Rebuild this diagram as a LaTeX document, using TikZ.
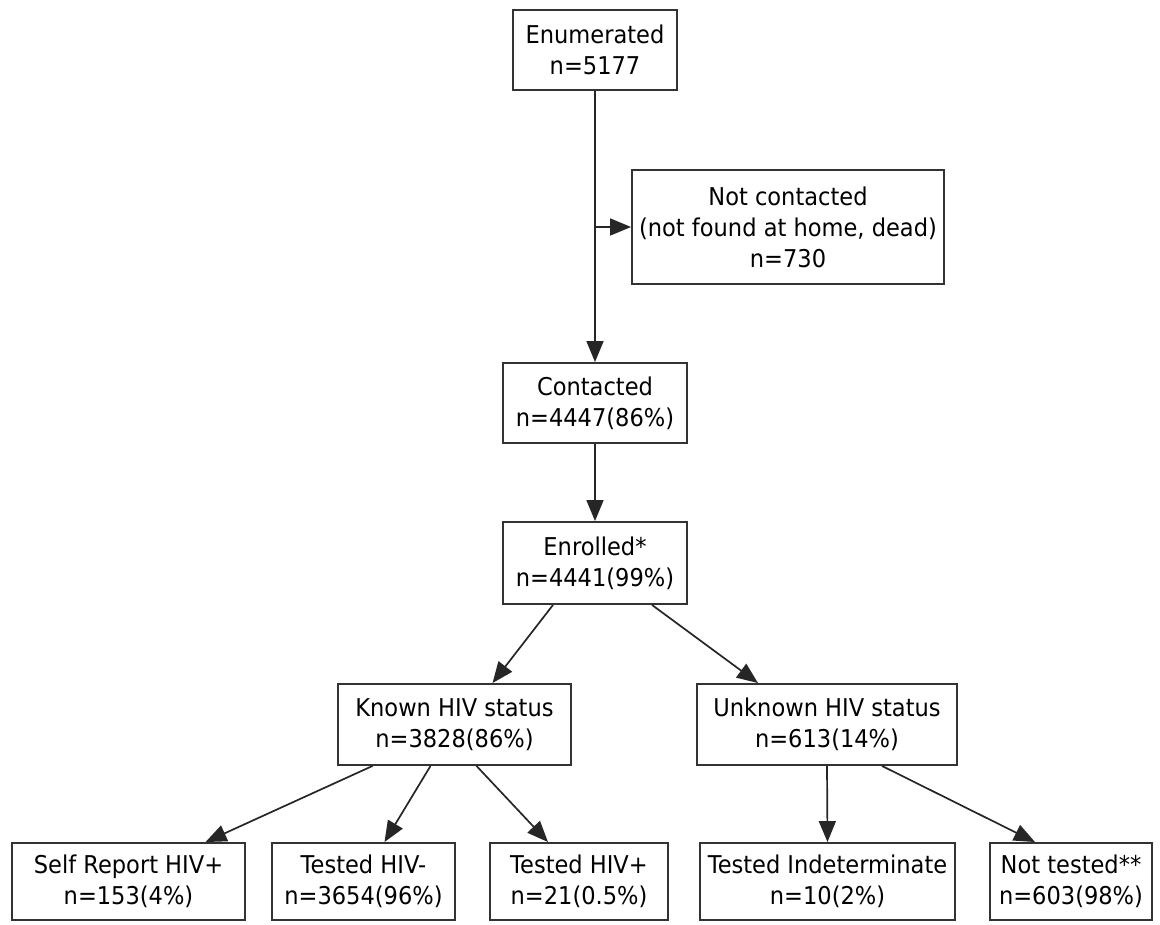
\documentclass[tikz,border=0pt]{standalone}
\usepackage{fontspec}
\setmainfont{DejaVu Sans}[FakeStretch=0.92]
\usetikzlibrary{arrows.meta,calc}
\tikzset{
  box/.style={draw=black!80, line width=1.9pt, align=center, inner sep=0pt,
    font=\fontsize{24.5}{31}\selectfont, text=black},
  conn/.style={draw=black!85, line width=1.7pt, -{Triangle[length=21pt,width=17pt]}},
}
\begin{document}
\begin{tikzpicture}[x=1pt,y=-1pt]
\useasboundingbox[fill=white] (0,0) rectangle (1160,925);
\node[box, minimum width=164pt, minimum height=80pt] (enum) at (595,50) {Enumerated\\n=5177};
\node[box, minimum width=312pt, minimum height=114pt] (nc) at (788,227) {Not contacted\\(not found at home, dead)\\n=730};
\node[box, minimum width=184pt, minimum height=80pt] (cont) at (595,403) {Contacted\\n=4447(86\%)};
\node[box, minimum width=184pt, minimum height=82pt] (enr) at (595,563) {Enrolled*\\n=4441(99\%)};
\node[box, minimum width=233pt, minimum height=81pt] (known) at (454.5,724.5) {Known HIV status\\n=3828(86\%)};
\node[box, minimum width=260pt, minimum height=81pt] (unk) at (827,724.5) {Unknown HIV status\\n=613(14\%)};
\node[box, minimum width=233pt, minimum height=77pt] (self) at (128.5,881.5) {Self Report HIV+\\n=153(4\%)};
\node[box, minimum width=183pt, minimum height=77pt] (neg) at (363.5,881.5) {Tested HIV-\\n=3654(96\%)};
\node[box, minimum width=178pt, minimum height=77pt] (pos) at (579,881.5) {Tested HIV+\\n=21(0.5\%)};
\node[box, minimum width=255pt, minimum height=77pt] (ind) at (827.5,881.5) {Tested Indeterminate\\n=10(2\%)};
\node[box, minimum width=162pt, minimum height=77pt] (nt) at (1071,881.5) {Not tested**\\n=603(98\%)};
\coordinate (br) at (enum.south |- nc.west);
\draw[conn] (enum.south) -- (cont.north);
\draw[conn] (br) -- (nc.west);
\draw[conn] (cont.south) -- (enr.north);
\draw[conn] ([xshift=-42pt]enr.south) -- ([xshift=38pt]known.north);
\draw[conn] ([xshift=57pt]enr.south) -- ([xshift=-69pt]unk.north);
\draw[conn] ([xshift=-82pt]known.south) -- ([xshift=77pt]self.north);
\draw[conn] ([xshift=-24pt]known.south) -- ([xshift=21pt]neg.north);
\draw[conn] ([xshift=22pt]known.south) -- ([xshift=-31pt]pos.north);
\draw[conn] (unk.south) -- (ind.north);
\draw[conn] ([xshift=55pt]unk.south) -- ([xshift=-36pt]nt.north);
\end{tikzpicture}
\end{document}
